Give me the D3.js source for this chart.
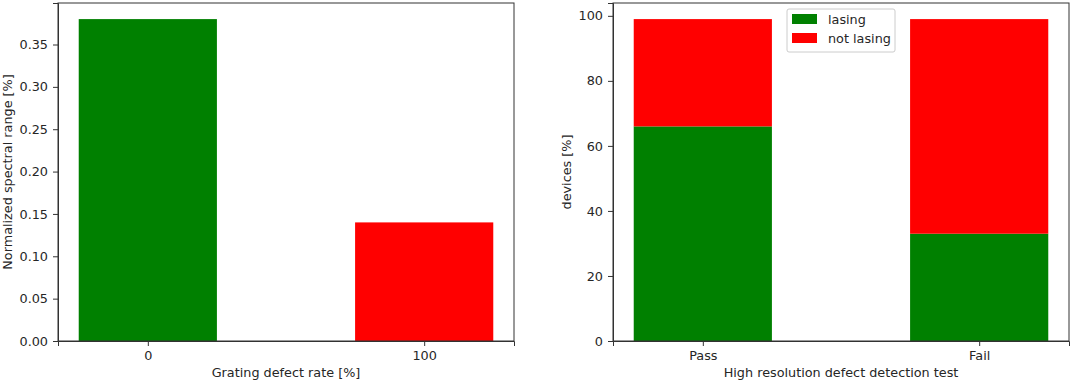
<!DOCTYPE html>
<html><head><meta charset="utf-8">
<script src="https://cdn.jsdelivr.net/npm/d3@7"></script>
<style>
body{margin:0;background:#fff;}
svg{display:block;}
</style></head>
<body><svg id="c" width="1072" height="383" font-family="DejaVu Sans, sans-serif"></svg>
<script>
// Left chart data
const leftCategories = ["0", "100"];
const leftValues = [0.38, 0.14];
const leftColors = ["green", "red"];
const leftYTicks = [0, 0.05, 0.10, 0.15, 0.20, 0.25, 0.30, 0.35];
// Right chart data
const rightCategories = ["Pass", "Fail"];
const lasing = [66, 33];
const notLasing = [33, 66];
const rightYTicks = [0, 20, 40, 60, 80, 100];
const seriesNames = ["lasing", "not lasing"];
const seriesColors = ["green", "red"];

const svg = d3.select("#c");
const yTop = 3, yBottom = 341;
const FS = 12.8, TXT = "#262626";

function styleAxis(sel) {
  sel.attr("font-family", "DejaVu Sans, sans-serif").attr("font-size", FS);
  sel.selectAll(".tick text").attr("fill", TXT);
  sel.selectAll(".domain, .tick line").attr("stroke", "#333");
}

function panel(x0, x1, cats, yMax, yTicks, fmt, xLabel, yLabel, yLabelX) {
  const g = svg.append("g");
  const x = d3.scaleLinear().domain([-0.325, cats.length - 1 + 0.325]).range([x0, x1]);
  const y = d3.scaleLinear().domain([0, yMax]).range([yBottom, yTop]);
  return {g, x, y, finish: () => {
    g.append("g").attr("transform", `translate(0,${yBottom})`)
      .call(d3.axisBottom(x).tickValues(cats.map((d, i) => i)).tickFormat(i => cats[i]).tickSizeOuter(0).tickSize(5).tickPadding(5))
      .call(styleAxis);
    g.append("g").attr("transform", `translate(${x0},0)`)
      .call(d3.axisLeft(y).tickValues(yTicks).tickFormat(fmt).tickSizeOuter(0).tickSize(5).tickPadding(5))
      .call(styleAxis);
    g.append("rect").attr("x", x0).attr("y", yTop).attr("width", x1 - x0).attr("height", yBottom - yTop)
      .attr("fill", "none").attr("stroke", "#333").attr("stroke-width", 1);
    g.append("text").attr("x", (x0 + x1) / 2).attr("y", 377).attr("text-anchor", "middle")
      .attr("font-size", FS).attr("fill", TXT).text(xLabel);
    g.append("text").attr("transform", `translate(${yLabelX},${(yTop + yBottom) / 2}) rotate(-90)`)
      .attr("text-anchor", "middle").attr("font-size", FS).attr("fill", TXT).text(yLabel);
  }};
}

// Left
const L = panel(58, 514, leftCategories, 0.38 * 1.05, leftYTicks, d3.format(".2f"),
  "Grating defect rate [%]", "Normalized spectral range [%]", 12);
L.g.selectAll(".bar").data(leftValues).join("rect")
  .attr("x", (d, i) => L.x(i - 0.25)).attr("width", (d, i) => L.x(i + 0.25) - L.x(i - 0.25))
  .attr("y", d => L.y(d)).attr("height", d => L.y(0) - L.y(d))
  .attr("fill", (d, i) => leftColors[i]);
L.finish();

// Right
const R = panel(613, 1069, rightCategories, 99 * 1.05, rightYTicks, d3.format("d"),
  "High resolution defect detection test", "devices [%]", 571);
const stacks = [lasing, notLasing];
stacks.forEach((vals, s) => {
  R.g.selectAll(".s" + s).data(vals).join("rect")
    .attr("x", (d, i) => R.x(i - 0.25)).attr("width", (d, i) => R.x(i + 0.25) - R.x(i - 0.25))
    .attr("y", (d, i) => R.y(d + (s ? lasing[i] : 0)))
    .attr("height", (d, i) => R.y(s ? lasing[i] : 0) - R.y(d + (s ? lasing[i] : 0)))
    .attr("fill", seriesColors[s]);
});
R.finish();

// Legend
const lg = svg.append("g").attr("transform", "translate(787,9)");
lg.append("rect").attr("width", 108).attr("height", 43).attr("rx", 2)
  .attr("fill", "rgba(255,255,255,0.8)").attr("stroke", "#ccc");
seriesNames.forEach((n, i) => {
  lg.append("rect").attr("x", 5).attr("y", 5 + i * 19).attr("width", 25).attr("height", 10).attr("fill", seriesColors[i]);
  lg.append("text").attr("x", 41).attr("y", 14.5 + i * 19).attr("font-size", FS).attr("fill", TXT).text(n);
});
</script></body></html>
